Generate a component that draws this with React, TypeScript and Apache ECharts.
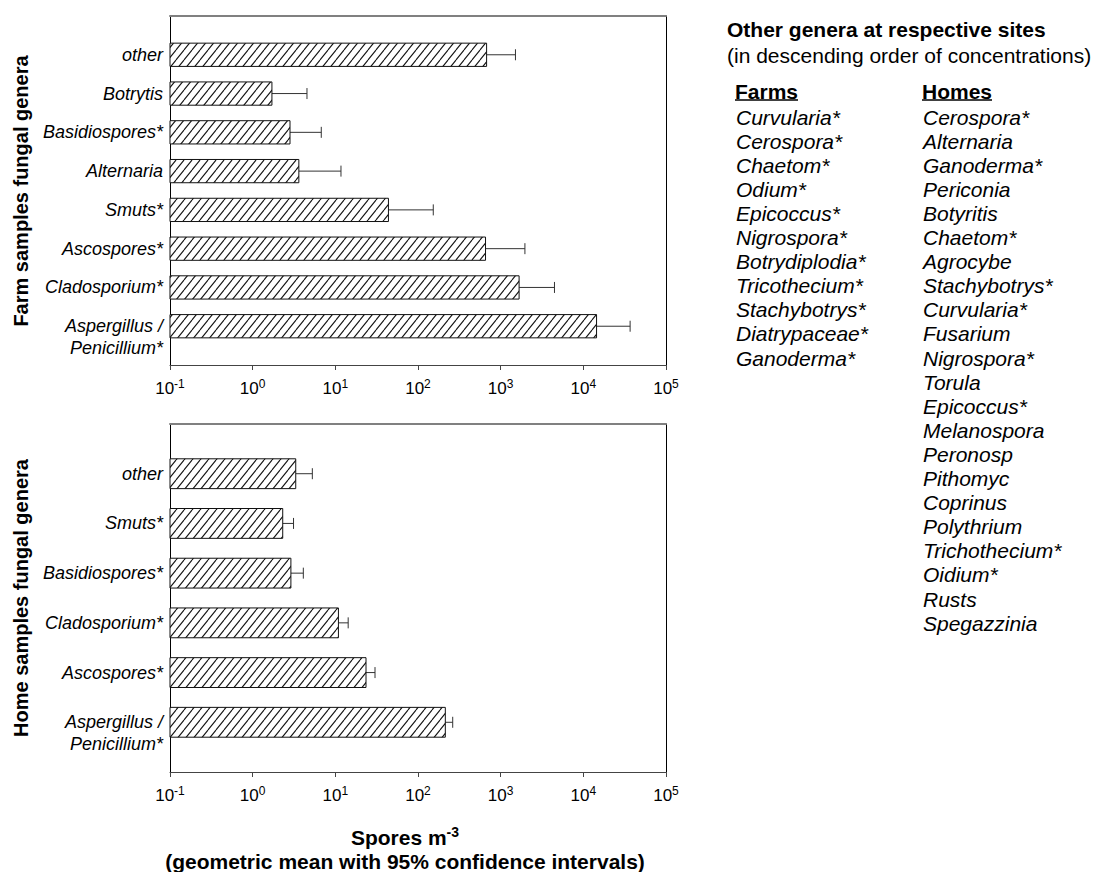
import React, { useEffect, useRef } from 'react';
import * as echarts from 'echarts';

// ---------- data ----------
const farmCategories = ['other', 'Botrytis', 'Basidiospores*', 'Alternaria', 'Smuts*', 'Ascospores*', 'Cladosporium*', 'Aspergillus / Penicillium*'];
const farmMeans = [676, 1.71, 2.83, 3.62, 43.9, 656, 1671, 14450];
const farmUpper = [1510, 4.54, 6.76, 11.7, 153, 1965, 4477, 36800];

const homeCategories = ['other', 'Smuts*', 'Basidiospores*', 'Cladosporium*', 'Ascospores*', 'Aspergillus / Penicillium*'];
const homeMeans = [3.32, 2.31, 2.9, 10.9, 23.5, 214];
const homeUpper = [5.27, 3.12, 4.1, 14.3, 30.2, 263];

const axisMin = 0.1;
const axisMax = 100000;

const farmTitle = 'Farm samples fungal genera';
const homeTitle = 'Home samples fungal genera';
const xTitleMain = 'Spores m';
const xTitleSup = '-3';
const xTitleSub = '(geometric mean with 95% confidence intervals)';

const sideTitle = 'Other genera at respective sites';
const sideSubtitle = '(in descending order of concentrations)';
const farmsHeader = 'Farms';
const homesHeader = 'Homes';
const farmsOther = ['Curvularia*', 'Cerospora*', 'Chaetom*', 'Odium*', 'Epicoccus*', 'Nigrospora*', 'Botrydiplodia*', 'Tricothecium*', 'Stachybotrys*', 'Diatrypaceae*', 'Ganoderma*'];
const homesOther = ['Cerospora*', 'Alternaria', 'Ganoderma*', 'Periconia', 'Botyritis', 'Chaetom*', 'Agrocybe', 'Stachybotrys*', 'Curvularia*', 'Fusarium', 'Nigrospora*', 'Torula', 'Epicoccus*', 'Melanospora', 'Peronosp', 'Pithomyc', 'Coprinus', 'Polythrium', 'Trichothecium*', 'Oidium*', 'Rusts', 'Spegazzinia'];

const FONT = '"Liberation Sans", Arial, Helvetica, sans-serif';

function makeHatch(): HTMLCanvasElement {
  const w = 8;
  const h = 10;
  const c = document.createElement('canvas');
  c.width = w;
  c.height = h;
  const ctx = c.getContext('2d')!;
  ctx.fillStyle = '#ffffff';
  ctx.fillRect(0, 0, w, h);
  ctx.strokeStyle = '#111111';
  ctx.lineWidth = 1.1;
  for (const off of [-w, 0, w]) {
    ctx.beginPath();
    ctx.moveTo(off, h);
    ctx.lineTo(off + w, 0);
    ctx.stroke();
  }
  return c;
}

export default function App() {
  const ref = useRef<HTMLDivElement>(null);

  useEffect(() => {
    if (!ref.current) return;
    const chart = echarts.init(ref.current, undefined, { renderer: 'svg' });
    const hatch = makeHatch();
    const pattern: any = { image: hatch, repeat: 'repeat', imageWidth: 8, imageHeight: 10 };

    const renderBar = (_params: any, api: any) => {
      const idx = api.value(0);
      const mean = api.value(1);
      const hi = api.value(2);
      const start = api.coord([axisMin, idx]);
      const end = api.coord([mean, idx]);
      const upper = api.coord([hi, idx]);
      const band = Math.abs(api.coord([axisMin, 1])[1] - api.coord([axisMin, 2])[1]);
      const bh = band * 0.6;
      const y = end[1];
      return {
        type: 'group',
        children: [
          {
            type: 'line',
            shape: { x1: end[0], y1: y, x2: upper[0], y2: y },
            style: { stroke: '#333', lineWidth: 1 },
          },
          {
            type: 'line',
            shape: { x1: upper[0], y1: y - 5.5, x2: upper[0], y2: y + 5.5 },
            style: { stroke: '#333', lineWidth: 1 },
          },
          {
            type: 'rect',
            shape: { x: start[0], y: y - bh / 2, width: end[0] - start[0], height: bh },
            style: { fill: pattern, stroke: '#111', lineWidth: 1 },
          },
        ],
      };
    };

    const xLabel = {
      margin: 13,
      color: '#000',
      formatter: (v: number) => `{b|10}{s|${Math.round(Math.log10(v))}}`,
      rich: {
        b: { fontSize: 17, fontFamily: FONT, color: '#000', lineHeight: 20, verticalAlign: 'middle' },
        s: { fontSize: 12, fontFamily: FONT, color: '#000', lineHeight: 12, verticalAlign: 'top' },
      },
    };

    const mainX = (gridIndex: number) => ({
      gridIndex,
      type: 'log',
      logBase: 10,
      min: axisMin,
      max: axisMax,
      axisLine: { show: true, onZero: false, lineStyle: { color: '#444', width: 1 } },
      axisTick: { show: true, length: 5, lineStyle: { color: '#444' } },
      minorTick: { show: false },
      splitLine: { show: false },
      axisLabel: xLabel,
    });
    const topX = (gridIndex: number) => ({
      gridIndex,
      type: 'value',
      position: 'top',
      min: 0,
      max: 1,
      axisLine: { show: true, onZero: false, lineStyle: { color: '#808080', width: 2 } },
      axisTick: { show: false },
      axisLabel: { show: false },
      splitLine: { show: false },
    });
    const mainY = (gridIndex: number, cats: string[]) => ({
      gridIndex,
      type: 'category',
      inverse: true,
      boundaryGap: false,
      data: ['', ...cats, ''],
      axisLine: { show: true, onZero: false, lineStyle: { color: '#000', width: 1 } },
      axisTick: { show: false },
      splitLine: { show: false },
      axisLabel: {
        interval: 0,
        margin: 7,
        color: '#000',
        fontStyle: 'italic',
        fontSize: 18,
        fontFamily: FONT,
        lineHeight: 22,
        formatter: (v: string) => (v.indexOf(' / ') >= 0 ? '\n' + v.replace(' / ', ' /\n') : v),
      },
    });
    const rightY = (gridIndex: number) => ({
      gridIndex,
      type: 'value',
      position: 'right',
      min: 0,
      max: 1,
      axisLine: { show: true, onZero: false, lineStyle: { color: '#000', width: 1 } },
      axisTick: { show: false },
      axisLabel: { show: false },
      splitLine: { show: false },
    });

    const farmData = farmCategories.map((_, i) => [i + 1, farmMeans[i], farmUpper[i]]);
    const homeData = homeCategories.map((_, i) => [i + 1, homeMeans[i], homeUpper[i]]);

    const graphics: any[] = [];
    graphics.push({
      type: 'text', x: 21, y: 191, rotation: Math.PI / 2,
      style: { text: farmTitle, fontSize: 20, fontWeight: 'bold', fontFamily: FONT, fill: '#000', align: 'center', verticalAlign: 'middle' },
    });
    graphics.push({
      type: 'text', x: 21, y: 598, rotation: Math.PI / 2,
      style: { text: homeTitle, fontSize: 20, fontWeight: 'bold', fontFamily: FONT, fill: '#000', align: 'center', verticalAlign: 'middle' },
    });
    graphics.push({
      type: 'text', x: 405, y: 837,
      style: {
        text: `{a|${xTitleMain}}{s|${xTitleSup}}`,
        align: 'center', verticalAlign: 'middle',
        rich: {
          a: { fontSize: 21, fontWeight: 'bold', fontFamily: FONT, fill: '#000', lineHeight: 24, verticalAlign: 'middle' },
          s: { fontSize: 14, fontWeight: 'bold', fontFamily: FONT, fill: '#000', lineHeight: 14, verticalAlign: 'top' },
        },
      },
    });
    graphics.push({
      type: 'text', x: 405, y: 861,
      style: { text: xTitleSub, fontSize: 21, fontWeight: 'bold', fontFamily: FONT, fill: '#000', align: 'center', verticalAlign: 'middle' },
    });
    // side panel
    graphics.push({
      type: 'text', x: 727, y: 29,
      style: { text: sideTitle, fontSize: 21, fontWeight: 'bold', fontFamily: FONT, fill: '#000', align: 'left', verticalAlign: 'middle' },
    });
    graphics.push({
      type: 'text', x: 727, y: 55,
      style: { text: sideSubtitle, fontSize: 21, fontFamily: FONT, fill: '#000', align: 'left', verticalAlign: 'middle' },
    });
    graphics.push({
      type: 'text', x: 735, y: 91,
      style: { text: farmsHeader, fontSize: 21, fontWeight: 'bold', fontFamily: FONT, fill: '#000', align: 'left', verticalAlign: 'middle' },
    });
    graphics.push({ type: 'line', shape: { x1: 735, y1: 100, x2: 798, y2: 100 }, style: { stroke: '#000', lineWidth: 1.5 } });
    graphics.push({
      type: 'text', x: 922, y: 91,
      style: { text: homesHeader, fontSize: 21, fontWeight: 'bold', fontFamily: FONT, fill: '#000', align: 'left', verticalAlign: 'middle' },
    });
    graphics.push({ type: 'line', shape: { x1: 922, y1: 100, x2: 992, y2: 100 }, style: { stroke: '#000', lineWidth: 1.5 } });
    farmsOther.forEach((t, i) => {
      graphics.push({
        type: 'text', x: 736, y: 117 + i * 24.1,
        style: { text: t, fontSize: 21, fontStyle: 'italic', fontFamily: FONT, fill: '#000', align: 'left', verticalAlign: 'middle' },
      });
    });
    homesOther.forEach((t, i) => {
      graphics.push({
        type: 'text', x: 923, y: 117 + i * 24.1,
        style: { text: t, fontSize: 21, fontStyle: 'italic', fontFamily: FONT, fill: '#000', align: 'left', verticalAlign: 'middle' },
      });
    });

    const option: any = {
      animation: false,
      backgroundColor: '#ffffff',
      textStyle: { fontFamily: FONT },
      grid: [
        { left: 170, top: 16, width: 496, height: 349, containLabel: false, outerBoundsMode: 'none' },
        { left: 170, top: 424, width: 496, height: 348, containLabel: false, outerBoundsMode: 'none' },
      ],
      xAxis: [mainX(0), topX(0), mainX(1), topX(1)],
      yAxis: [mainY(0, farmCategories), rightY(0), mainY(1, homeCategories), rightY(1)],
      series: [
        {
          type: 'custom', name: 'Farms', xAxisIndex: 0, yAxisIndex: 0,
          encode: { x: 1, y: 0 }, renderItem: renderBar, data: farmData, clip: false, z: 3,
        },
        {
          type: 'custom', name: 'Homes', xAxisIndex: 2, yAxisIndex: 2,
          encode: { x: 1, y: 0 }, renderItem: renderBar, data: homeData, clip: false, z: 3,
        },
      ],
      graphic: graphics,
    };
    chart.setOption(option);
    return () => {
      chart.dispose();
    };
  }, []);

  return (
    <div
      ref={ref}
      style={{ position: 'absolute', left: 0, top: 0, width: 1101, height: 872, background: '#fff' }}
    />
  );
}
